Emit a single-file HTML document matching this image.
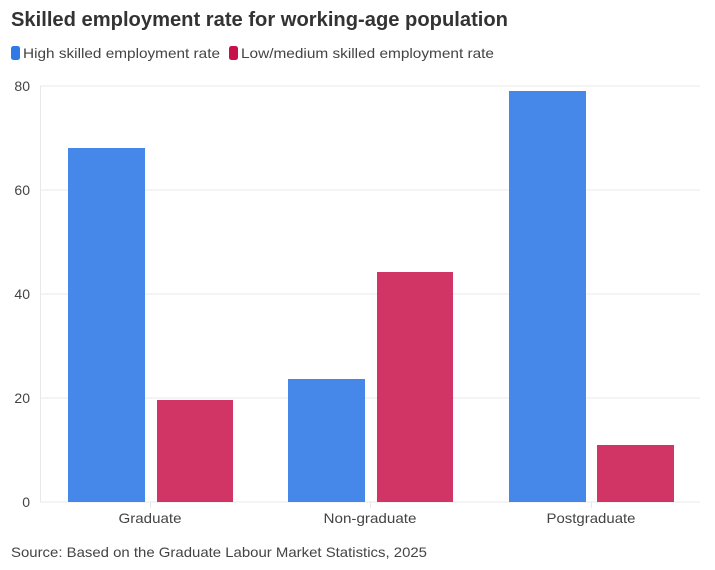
<!DOCTYPE html>
<html><head><meta charset="utf-8"><style>
html,body{margin:0;padding:0;background:#fff;}
svg{display:block;font-family:"Liberation Sans",sans-serif;}
</style></head><body>
<svg width="715" height="570" viewBox="0 0 715 570" xmlns="http://www.w3.org/2000/svg">
<text x="11" y="26" font-size="20" font-weight="bold" fill="#333" textLength="497" lengthAdjust="spacingAndGlyphs">Skilled employment rate for working-age population</text>
<rect x="11" y="46" width="9" height="14" rx="2.5" fill="#2f7ae8"/>
<text x="23" y="58" font-size="14" fill="#444" textLength="197" lengthAdjust="spacingAndGlyphs">High skilled employment rate</text>
<rect x="229" y="46" width="9" height="14" rx="2.5" fill="#c8104a"/>
<text x="241" y="58" font-size="14" fill="#444" textLength="253" lengthAdjust="spacingAndGlyphs">Low/medium skilled employment rate</text>
<g stroke="#e8e8e8" stroke-width="1">
<line x1="40" y1="86" x2="700" y2="86"/>
<line x1="40" y1="190" x2="700" y2="190"/>
<line x1="40" y1="294" x2="700" y2="294"/>
<line x1="40" y1="398" x2="700" y2="398"/>
<line x1="40" y1="502" x2="700" y2="502"/>
<line x1="40.5" y1="86" x2="40.5" y2="502"/>
<line x1="150.5" y1="502" x2="150.5" y2="508"/>
<line x1="370.5" y1="502" x2="370.5" y2="508"/>
<line x1="591.5" y1="502" x2="591.5" y2="508"/>
</g>
<g font-size="14" fill="#444" text-anchor="end">
<text x="30" y="91">80</text>
<text x="30" y="195">60</text>
<text x="30" y="299">40</text>
<text x="30" y="403">20</text>
<text x="30" y="507">0</text>
</g>
<g fill="#4688ea">
<rect x="68" y="148" width="77" height="354"/>
<rect x="288" y="379" width="77" height="123"/>
<rect x="509" y="91" width="77" height="411"/>
</g>
<g fill="#d03566">
<rect x="157" y="400" width="76" height="102"/>
<rect x="377" y="272" width="76" height="230"/>
<rect x="597" y="445" width="77" height="57"/>
</g>
<g font-size="14" fill="#444" text-anchor="middle">
<text x="150" y="523" textLength="63" lengthAdjust="spacingAndGlyphs">Graduate</text>
<text x="370" y="523" textLength="93" lengthAdjust="spacingAndGlyphs">Non-graduate</text>
<text x="591" y="523" textLength="89" lengthAdjust="spacingAndGlyphs">Postgraduate</text>
</g>
<text x="11" y="557" font-size="14" fill="#444" textLength="416" lengthAdjust="spacingAndGlyphs">Source: Based on the Graduate Labour Market Statistics, 2025</text>
</svg>
</body></html>
